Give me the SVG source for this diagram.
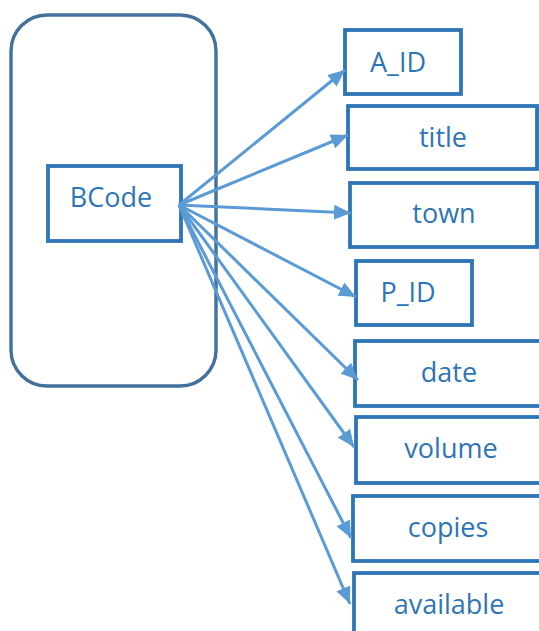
<svg xmlns="http://www.w3.org/2000/svg" width="539" height="631" viewBox="0 0 539 631">
  <style>
    .entity { fill: #ffffff; stroke: #41719C; stroke-width: 3.4; }
    .box { fill: #ffffff; stroke: #2E75B6; stroke-width: 3.8; }
    .label { font-family: "Open Sans", "Liberation Sans", sans-serif; font-size: 27px; fill: #2E75B6; text-anchor: middle; }
    .link { stroke: #5B9BD5; stroke-width: 3; fill: none; marker-end: url(#arrow); }
  </style>
  <defs>
    <marker id="arrow" markerUnits="userSpaceOnUse" markerWidth="19" markerHeight="15" refX="17" refY="7.5" orient="auto">
      <path d="M0,0 L17,7.5 L0,15 Z" fill="#5B9BD5"/>
    </marker>
  </defs>

  <rect width="539" height="631" fill="#ffffff"/>

  <!-- entity outline -->
  <g id="entity">
    <rect class="entity" x="11" y="15" width="205" height="371" rx="36" ry="36"/>
  </g>

  <!-- key attribute -->
  <g id="bcode">
    <rect class="box" x="48" y="166" width="133" height="75"/>
    <text class="label" x="111" y="207">BCode</text>
  </g>

  <!-- dependent attributes -->
  <g id="a_id">
    <rect class="box" x="345" y="30" width="116" height="64"/>
    <text class="label" x="398" y="72">A_ID</text>
  </g>
  <g id="title">
    <rect class="box" x="348" y="106" width="189" height="63"/>
    <text class="label" x="443" y="147">title</text>
  </g>
  <g id="town">
    <rect class="box" x="350" y="183" width="187" height="64"/>
    <text class="label" x="444" y="223">town</text>
  </g>
  <g id="p_id">
    <rect class="box" x="356" y="261" width="116" height="64"/>
    <text class="label" x="408" y="302">P_ID</text>
  </g>
  <g id="date">
    <rect class="box" x="355" y="341" width="200" height="65"/>
    <text class="label" x="449" y="382">date</text>
  </g>
  <g id="volume">
    <rect class="box" x="356" y="417" width="200" height="66"/>
    <text class="label" x="451" y="458">volume</text>
  </g>
  <g id="copies">
    <rect class="box" x="353" y="496" width="200" height="65"/>
    <text class="label" x="448" y="537">copies</text>
  </g>
  <g id="available">
    <rect class="box" x="354" y="573" width="200" height="80"/>
    <text class="label" x="449" y="614">available</text>
  </g>

  <!-- dependency arrows from BCode -->
  <g id="connectors">
    <line class="link" x1="179" y1="205" x2="345" y2="70"/>
    <line class="link" x1="179" y1="205" x2="348" y2="135"/>
    <line class="link" x1="179" y1="205" x2="351" y2="213"/>
    <line class="link" x1="179" y1="205" x2="356" y2="297"/>
    <line class="link" x1="179" y1="205" x2="358" y2="380"/>
    <line class="link" x1="179" y1="205" x2="354" y2="447"/>
    <line class="link" x1="179" y1="205" x2="351" y2="538"/>
    <line class="link" x1="179" y1="205" x2="350" y2="604"/>
  </g>
</svg>
